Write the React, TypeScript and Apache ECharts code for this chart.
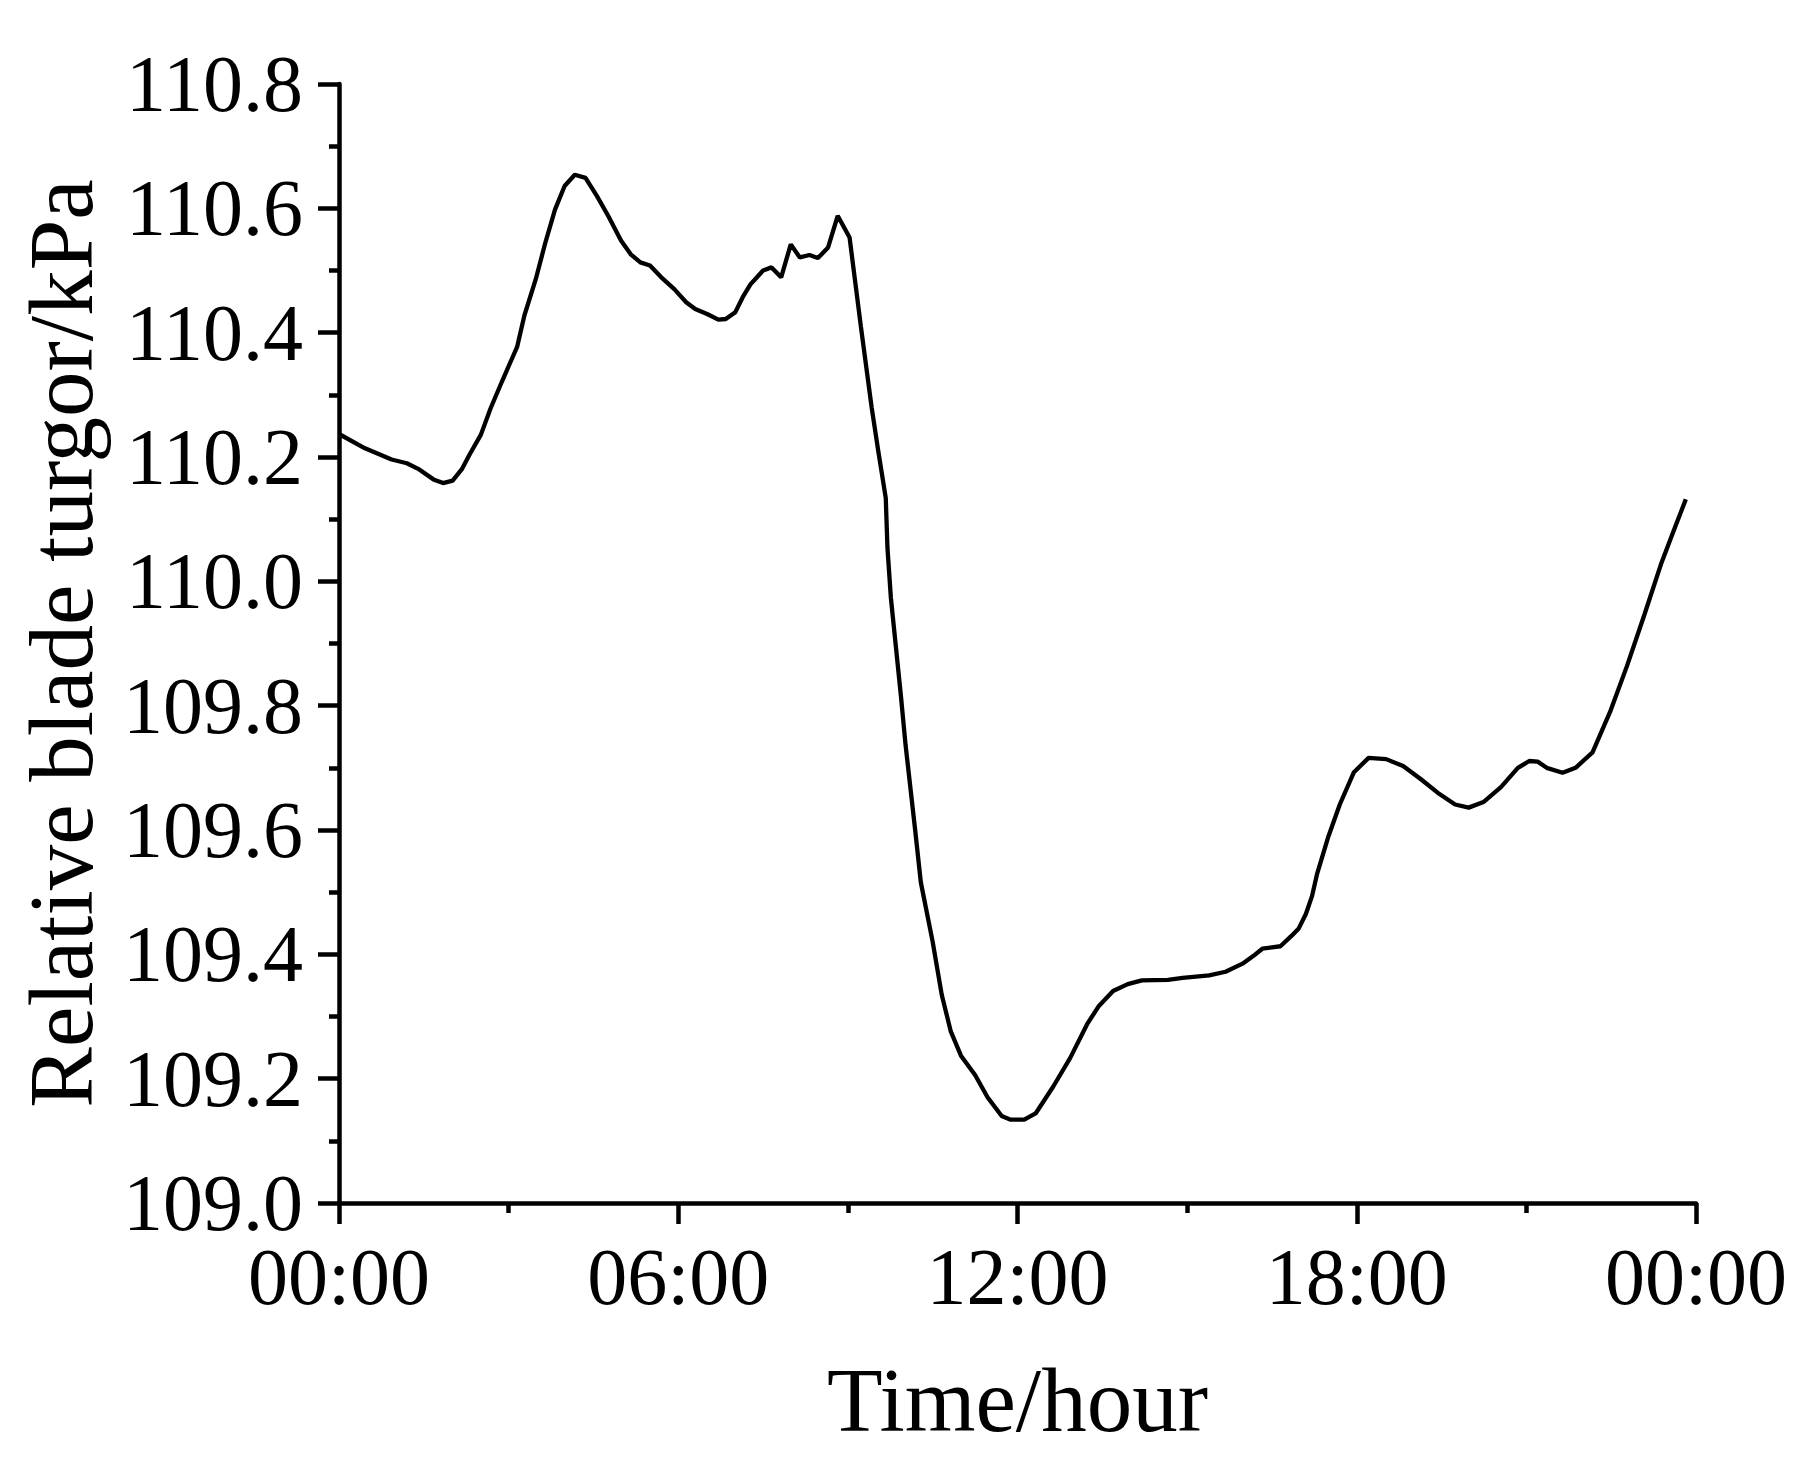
import React, { useEffect, useRef } from "react";
import * as echarts from "echarts";

// time in hours since 00:00
const hours: number[] = [
  0, 0.46, 0.93, 1.2, 1.4, 1.67, 1.84, 2.01, 2.17, 2.31, 2.51, 2.68, 2.88, 3.15, 3.28, 3.48, 3.65, 3.82, 3.99, 4.17,
  4.36, 4.56, 4.76, 4.99, 5.16, 5.33, 5.5, 5.7, 5.93, 6.14, 6.3, 6.51, 6.71, 6.84, 7.01, 7.14, 7.28, 7.36, 7.5, 7.65,
  7.82, 7.99, 8.15, 8.32, 8.47, 8.65, 8.82, 9.03, 9.23, 9.42, 9.53, 9.67, 9.7, 9.76, 9.85, 9.94, 10.02, 10.19, 10.29,
  10.5, 10.66, 10.82, 11.0, 11.25, 11.47, 11.72, 11.88, 12.12, 12.32, 12.63, 12.93, 13.24, 13.44, 13.69, 13.95, 14.2,
  14.66, 14.92, 15.39, 15.68, 15.98, 16.18, 16.33, 16.65, 16.85, 16.97, 17.1, 17.21, 17.3, 17.5, 17.7, 17.95, 18.21,
  18.52, 18.82, 19.13, 19.43, 19.74, 19.98, 20.24, 20.55, 20.85, 21.05, 21.2, 21.36, 21.64, 21.87, 22.17, 22.48, 22.78,
  23.09, 23.39, 23.6, 23.82,
];

// relative blade turgor, kPa
const turgor: number[] = [
  110.237, 110.214, 110.196, 110.19, 110.181, 110.164, 110.158, 110.162, 110.18, 110.204, 110.236, 110.278, 110.321,
  110.377, 110.428, 110.486, 110.545, 110.598, 110.636, 110.654, 110.649, 110.62, 110.588, 110.548, 110.526, 110.513,
  110.508, 110.489, 110.47, 110.449, 110.438, 110.43, 110.421, 110.422, 110.433, 110.457, 110.478, 110.486, 110.5,
  110.505, 110.489, 110.542, 110.521, 110.525, 110.52, 110.537, 110.588, 110.553, 110.41, 110.28, 110.214, 110.134,
  110.054, 109.974, 109.894, 109.814, 109.737, 109.6, 109.516, 109.42, 109.335, 109.276, 109.237, 109.206, 109.17,
  109.14, 109.134, 109.134, 109.144, 109.187, 109.233, 109.289, 109.317, 109.341, 109.352, 109.358, 109.359, 109.362,
  109.366, 109.372, 109.385, 109.398, 109.409, 109.413, 109.43, 109.441, 109.465, 109.494, 109.53, 109.59, 109.641,
  109.693, 109.716, 109.714, 109.703, 109.682, 109.66, 109.641, 109.636, 109.645, 109.669, 109.7, 109.711, 109.71,
  109.7, 109.692, 109.7, 109.725, 109.79, 109.864, 109.947, 110.03, 110.08, 110.132,
];

const xTickHours: number[] = [0, 6, 12, 18, 24];
const xTickLabels: string[] = ["00:00", "06:00", "12:00", "18:00", "00:00"];

const FONT = "'Palatino Linotype', 'Book Antiqua', Palatino, 'Liberation Serif', serif";

export default function App() {
  const ref = useRef<HTMLDivElement>(null);
  useEffect(() => {
    if (!ref.current) return;
    const chart = echarts.init(ref.current, null, { renderer: "svg" });
    const axisLine = { show: true, onZero: false, lineStyle: { color: "#000", width: 4.5 } };
    chart.setOption({
      animation: false,
      backgroundColor: "#fff",
      grid: { left: 324, right: 104, top: 76, bottom: 242, containLabel: false },
      xAxis: {
        type: "value",
        min: 0,
        max: 24,
        interval: 6,
        name: "Time/hour",
        nameLocation: "middle",
        nameGap: 152,
        nameTextStyle: { fontFamily: FONT, fontSize: 91, color: "#000" },
        axisLine,
        axisTick: { show: true, inside: false, length: 21, lineStyle: { color: "#000", width: 4.5 } },
        minorTick: { show: true, splitNumber: 2, length: 10, lineStyle: { color: "#000", width: 4.5 } },
        splitLine: { show: false },
        axisLabel: {
          fontFamily: FONT,
          fontSize: 80,
          color: "#000",
          margin: 34,
          formatter: (v: number) => {
            const i = xTickHours.indexOf(v);
            return i >= 0 ? xTickLabels[i] : "";
          },
        },
      },
      yAxis: {
        type: "value",
        min: 109,
        max: 110.8,
        interval: 0.2,
        name: "Relative blade turgor/kPa",
        nameLocation: "middle",
        nameGap: 232,
        nameTextStyle: { fontFamily: FONT, fontSize: 91, color: "#000" },
        axisLine,
        axisTick: { show: true, inside: false, length: 21, lineStyle: { color: "#000", width: 4.5 } },
        minorTick: { show: true, splitNumber: 2, length: 10, lineStyle: { color: "#000", width: 4.5 } },
        splitLine: { show: false },
        axisLabel: {
          fontFamily: FONT,
          fontSize: 80,
          color: "#000",
          margin: 36,
          formatter: (v: number) => v.toFixed(1),
        },
      },
      series: [
        {
          type: "line",
          data: hours.map((h, i) => [h, turgor[i]]),
          showSymbol: false,
          symbol: "none",
          smooth: false,
          lineStyle: { color: "#000", width: 4.3 },
        },
      ],
    });
    return () => chart.dispose();
  }, []);
  return <div ref={ref} style={{ width: 1792, height: 1443 }} />;
}
